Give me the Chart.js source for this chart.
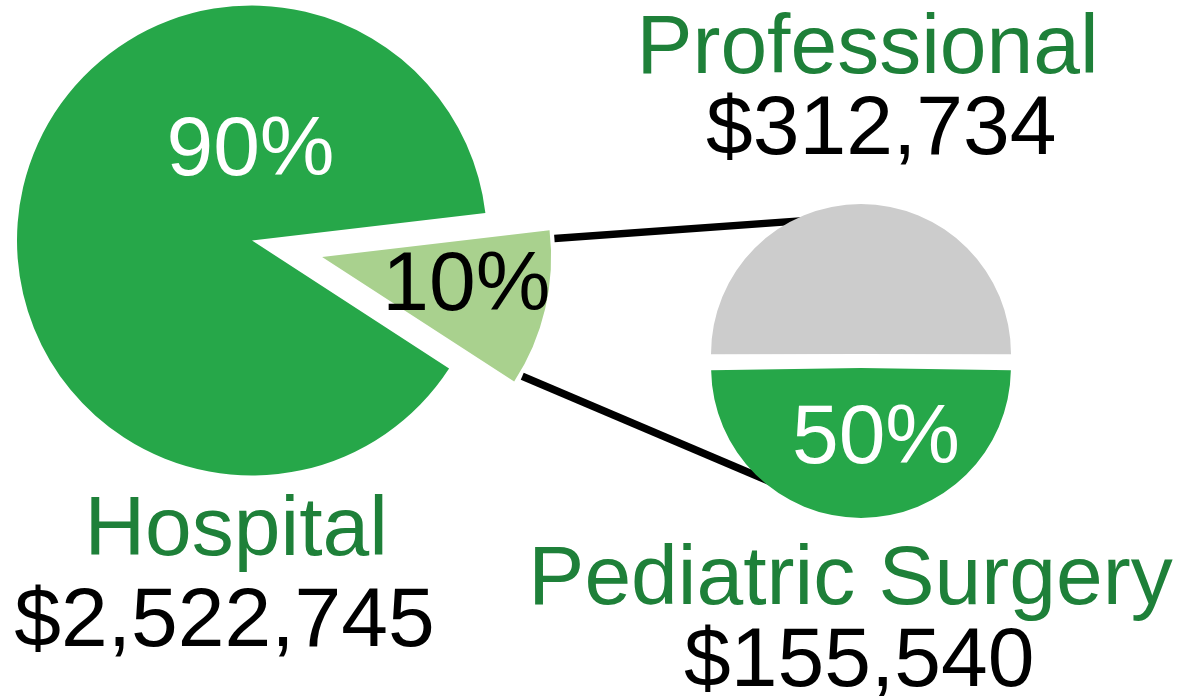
<!DOCTYPE html>
<html lang="en">
<head>
<meta charset="UTF-8">
<title>Hospital vs Professional</title>
<script src="https://cdn.jsdelivr.net/npm/chart.js"></script>
<style>
  body { margin: 0; background: #fff; font-family: "Liberation Sans", Arial, sans-serif; }
  #stage { position: relative; width: 1186px; height: 696px; overflow: hidden; }
  #stage canvas { position: absolute; left: 0; top: 0; }
  .lbl { position: absolute; font-size: 84px; line-height: 84px; white-space: nowrap; transform: translateX(-50%); }
  .cat { color: #1e8039; }
  .amt { color: #000; }
  .pctLight { color: #fff; }
  .pctDark { color: #000; }
</style>
</head>
<body>
<div id="stage">
  <canvas id="mainPie" width="1186" height="696"></canvas>
  <canvas id="slicePie" width="1186" height="696"></canvas>
  <canvas id="subPie" width="1186" height="696"></canvas>
</div>
<script>
// data
const mainLabels = ['Hospital', 'Professional'];
const mainValues = [2522745, 312734];
const mainPct = ['90%', '10%'];
const subLabels = ['Pediatric Surgery', 'Other'];
const subValues = [155540, 157194];
const subPct = ['50%', ''];

const green = '#26a749';
const lightGreen = '#a9d18e';
const grey = '#cccccc';
const none = 'rgba(0,0,0,0)';

// layout
const W = 1186, H = 696;
const mainCenter = { x: 252, y: 240.5 };
const mainRadius = 235;
const sliceRadius = 229;
const explode = 72;          // px the Professional slice is pulled out
const mainRotation = 123;
const subCenter = { x: 861, y: 361 };
const subRadius = 150;
const subGap = 7;            // each half is pushed this far from the centre

function padFor(c) {
  return {
    left: Math.max(0, 2 * c.x - W), right: Math.max(0, W - 2 * c.x),
    top: Math.max(0, 2 * c.y - H), bottom: Math.max(0, H - 2 * c.y)
  };
}

const mainTotal = mainValues.reduce((a, b) => a + b, 0);
const subTotal = subValues.reduce((a, b) => a + b, 0);

// mid angle of the Professional slice (screen degrees, 0 = right)
const profMid = mainRotation - 90 + 360 * mainValues[0] / mainTotal + 180 * mainValues[1] / mainTotal;
const sliceCenter = {
  x: mainCenter.x + explode * Math.cos(profMid * Math.PI / 180),
  y: mainCenter.y + explode * Math.sin(profMid * Math.PI / 180)
};

Chart.defaults.animation = false;
Chart.defaults.responsive = false;
Chart.defaults.devicePixelRatio = 1;
Chart.defaults.plugins.legend.display = false;
Chart.defaults.plugins.tooltip.enabled = false;

function pieOptions(center, radius, rotation) {
  return {
    layout: { padding: padFor(center) },
    radius: radius,
    rotation: rotation,
    events: []
  };
}

const mainChart = new Chart(document.getElementById('mainPie'), {
  type: 'pie',
  data: {
    labels: mainLabels,
    datasets: [{ data: mainValues, backgroundColor: [green, none], borderWidth: 0 }]
  },
  options: pieOptions(mainCenter, mainRadius, mainRotation)
});

const sliceChart = new Chart(document.getElementById('slicePie'), {
  type: 'pie',
  data: {
    labels: mainLabels,
    datasets: [{ data: mainValues, backgroundColor: [none, lightGreen], borderWidth: 0 }]
  },
  options: pieOptions(sliceCenter, sliceRadius, mainRotation)
});

// lines from the pulled-out slice to the second pie, drawn under it
const connectors = {
  id: 'connectors',
  beforeDatasetsDraw(chart) {
    const slice = sliceChart.getDatasetMeta(0).data[1];
    const halves = chart.getDatasetMeta(0).data;
    const deg = Math.PI / 180;
    const inset = 2.2 * deg;
    const r0 = slice.outerRadius + 4;

    function drawnCenter(arc) {
      const mid = (arc.startAngle + arc.endAngle) / 2;
      return { x: arc.x + Math.cos(mid) * subGap, y: arc.y + Math.sin(mid) * subGap };
    }
    const gc = drawnCenter(halves[1]);
    const pc = drawnCenter(halves[0]);

    const lines = [
      [slice.startAngle + inset, gc, 242 * deg],
      [slice.endAngle - inset, pc, 134 * deg]
    ];
    const ctx = chart.ctx;
    ctx.save();
    ctx.strokeStyle = '#000';
    ctx.lineWidth = 7.5;
    ctx.lineCap = 'butt';
    lines.forEach(([a, c, b]) => {
      const sx = slice.x + r0 * Math.cos(a), sy = slice.y + r0 * Math.sin(a);
      const tx = c.x + subRadius * Math.cos(b), ty = c.y + subRadius * Math.sin(b);
      const len = Math.hypot(tx - sx, ty - sy);
      const ex = tx + (tx - sx) / len * 20, ey = ty + (ty - sy) / len * 20;
      ctx.beginPath();
      ctx.moveTo(sx, sy);
      ctx.lineTo(ex, ey);
      ctx.stroke();
    });
    ctx.restore();
  }
};

const subChart = new Chart(document.getElementById('subPie'), {
  type: 'pie',
  data: {
    labels: subLabels,
    datasets: [{
      data: subValues,
      backgroundColor: [green, grey],
      borderWidth: 0,
      offset: subGap * 4   // Chart.js moves an arc by offset / 4
    }]
  },
  // an offset half circle also grows by the distance it moves
  options: pieOptions(subCenter, subRadius - subGap, 180 - 180 * subValues[0] / subTotal),
  plugins: [connectors]
});

// text
const fmt = v => '$' + v.toLocaleString('en-US');
const texts = [
  [mainLabels[1], 'cat', 867.5, 1.6],
  [fmt(mainValues[1]), 'amt', 881.3, 83.2],
  [mainLabels[0], 'cat', 236.2, 483.9],
  [fmt(mainValues[0]), 'amt', 224.5, 575.4],
  [subLabels[0], 'cat', 850.5, 532.9],
  [fmt(subValues[0]), 'amt', 859.3, 614.9],
  [mainPct[0], 'pctLight', 250.5, 103.9],
  [mainPct[1], 'pctDark', 466.3, 238.9],
  [subPct[0], 'pctLight', 876, 391.9]
];
const stage = document.getElementById('stage');
texts.forEach(([t, cls, x, y]) => {
  const d = document.createElement('div');
  d.className = 'lbl ' + cls;
  d.textContent = t;
  d.style.left = x + 'px';
  d.style.top = y + 'px';
  stage.appendChild(d);
});
</script>
</body>
</html>
